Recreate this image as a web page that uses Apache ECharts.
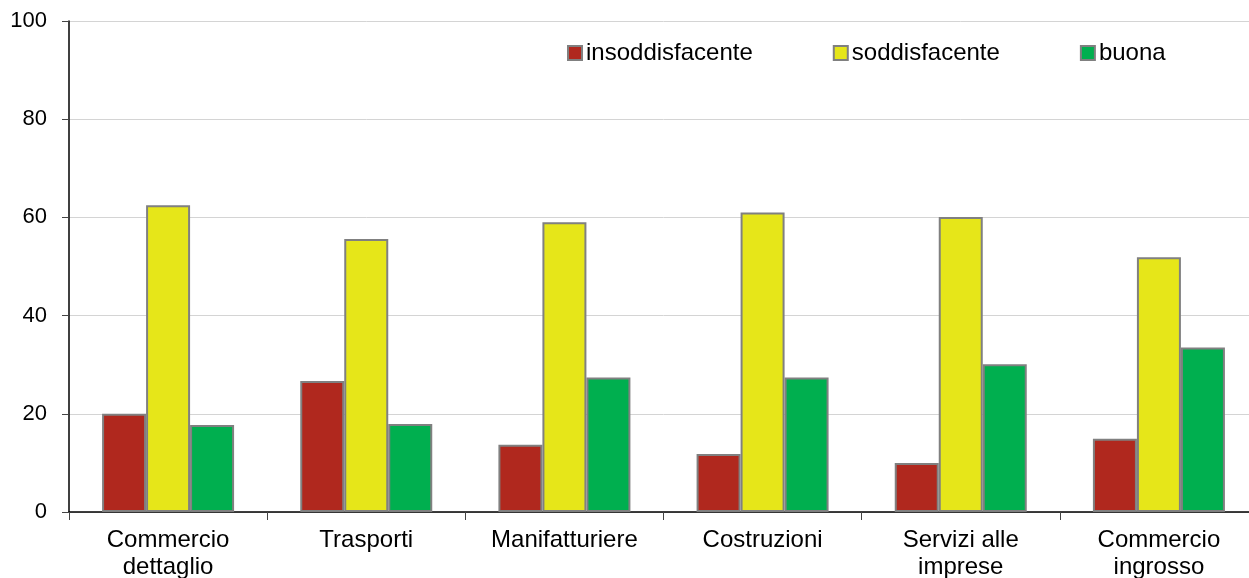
<!DOCTYPE html>
<html>
<head>
<meta charset="utf-8">
<script src="https://cdn.jsdelivr.net/npm/echarts@6/dist/echarts.min.js"></script>
<style>
  html, body { margin: 0; padding: 0; background: #fff; overflow: hidden; }
  /* l'asse x prosegue oltre il bordo destro dell'immagine */
  #chart { width: 1258px; height: 578px; }
</style>
</head>
<body>
<div id="chart"></div>
<script>
  // categorie (settori)
  var categories = ['Commercio\ndettaglio', 'Trasporti', 'Manifatturiere', 'Costruzioni', 'Servizi alle\nimprese', 'Commercio\ningrosso'];
  var seriesNames = ['insoddisfacente', 'soddisfacente', 'buona'];
  var insoddisfacente = [20.0, 26.7, 13.7, 11.8, 10.0, 14.9];
  var soddisfacente = [62.5, 55.6, 59.0, 61.0, 60.1, 51.9];
  var buona = [17.7, 17.9, 27.4, 27.4, 30.1, 33.5];
  var yTicks = [0, 20, 40, 60, 80, 100];

  var colors = ['#B0281E', '#E6E619', '#00AF4F'];
  var font = 'Liberation Sans, Arial, sans-serif';

  var chart = echarts.init(document.getElementById('chart'));

  function bar(name, data, i) {
    return {
      name: name,
      type: 'bar',
      data: data,
      barWidth: 44,
      barGap: '0%',
      itemStyle: { color: colors[i], borderColor: '#808080', borderWidth: 2 }
    };
  }

  chart.setOption({
    animation: false,
    textStyle: { fontFamily: font },
    legend: {
      data: seriesNames,
      icon: 'rect',
      left: 562,
      top: 36,
      itemWidth: 14,
      itemHeight: 14,
      itemGap: 80,
      textStyle: { fontSize: 24, color: '#000', fontFamily: font, padding: [0, 0, 0, -1] }
    },
    grid: { left: 69, top: 21, right: 0, bottom: 66, containLabel: false, outerBoundsMode: 'none' },
    xAxis: {
      type: 'category',
      data: categories,
      boundaryGap: true,
      axisLine: { lineStyle: { color: '#000', width: 1.5 } },
      axisTick: { show: true, length: 8, lineStyle: { color: '#444' } },
      axisLabel: { fontSize: 24, color: '#000', margin: 15, lineHeight: 27, interval: 0 }
    },
    yAxis: {
      type: 'value',
      min: yTicks[0],
      max: yTicks[yTicks.length - 1],
      interval: 20,
      axisLine: { show: true, lineStyle: { color: '#000', width: 1.5 } },
      axisTick: { show: true, length: 7, lineStyle: { color: '#444' } },
      axisLabel: { fontSize: 22, color: '#000', margin: 22 },
      splitLine: { lineStyle: { color: '#d4d4d4', width: 1 } }
    },
    series: [
      bar(seriesNames[0], insoddisfacente, 0),
      bar(seriesNames[1], soddisfacente, 1),
      bar(seriesNames[2], buona, 2)
    ]
  });
</script>
</body>
</html>
